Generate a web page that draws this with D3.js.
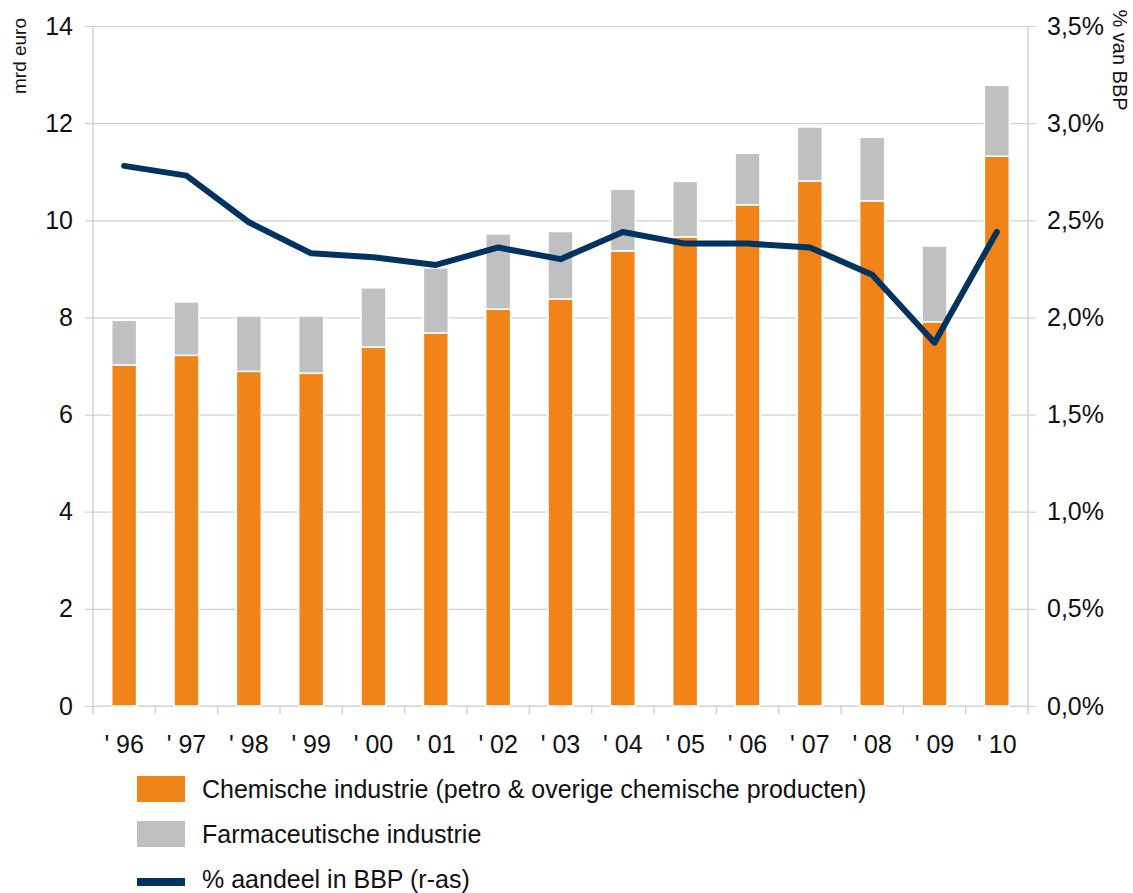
<!DOCTYPE html>
<html>
<head>
<meta charset="utf-8">
<script src="https://cdn.jsdelivr.net/npm/d3@7"></script>
<style>
  html, body { margin: 0; padding: 0; background: #fff; }
  svg { display: block; font-family: "Liberation Sans", Arial, sans-serif; }
</style>
</head>
<body>
<svg id="chart" width="1133" height="893"></svg>
<script>
// Jaren
const years = ["' 96", "' 97", "' 98", "' 99", "' 00", "' 01", "' 02", "' 03", "' 04", "' 05", "' 06", "' 07", "' 08", "' 09", "' 10"];
// Toegevoegde waarde, mrd euro
const chemie = [7.02, 7.22, 6.89, 6.85, 7.39, 7.68, 8.17, 8.38, 9.37, 9.66, 10.32, 10.81, 10.40, 7.91, 11.32];
const farma  = [0.92, 1.10, 1.14, 1.18, 1.22, 1.34, 1.55, 1.39, 1.27, 1.14, 1.06, 1.11, 1.31, 1.56, 1.46];
// Aandeel in BBP, procent (rechteras)
const aandeel = [2.78, 2.73, 2.49, 2.33, 2.31, 2.27, 2.36, 2.30, 2.44, 2.38, 2.38, 2.36, 2.22, 1.87, 2.44];
// As-ticks
const leftTicks = [0, 2, 4, 6, 8, 10, 12, 14];
const rightTicks = [0, 0.5, 1, 1.5, 2, 2.5, 3, 3.5];
const legendLabels = [
  "Chemische industrie (petro & overige chemische producten)",
  "Farmaceutische industrie",
  "% aandeel in BBP (r-as)"
];

const C_CHEM = "#f08418", C_FARMA = "#c0c0c0", C_LINE = "#00335f", C_GRID = "#d2d2d2";
const FS = 25;

const svg = d3.select("#chart");
const plotL = 93, plotR = 1028, plotT = 26, plotB = 706;

const x = d3.scaleBand().domain(years).range([plotL, plotR]).paddingInner(0.6).paddingOuter(0.3);
const xb = d3.scaleBand().domain(years).range([plotL, plotR]).padding(0);
const y = d3.scaleLinear().domain([0, 14]).range([plotB, plotT]);
const y2 = d3.scaleLinear().domain([0, 3.5]).range([plotB, plotT]);

// Rasterlijnen met korte tick links
const yAxis = d3.axisLeft(y).tickValues(leftTicks).tickSize(-(plotR - plotL)).tickSizeOuter(0).tickPadding(20).tickFormat(d3.format("d"));
const gy = svg.append("g").attr("transform", `translate(${plotL},0)`).call(yAxis);
gy.select(".domain").remove();
gy.selectAll(".tick line").attr("stroke", C_GRID).attr("x1", -8).attr("stroke-width", 1.2);
gy.selectAll(".tick text").attr("font-size", FS).attr("fill", "#111").attr("font-family", "Liberation Sans, Arial, sans-serif");

// Rechteras
const y2Axis = d3.axisRight(y2).tickValues(rightTicks).tickSize(8).tickSizeOuter(0).tickPadding(11)
  .tickFormat(d => d3.format(".1f")(d).replace(".", ",") + "%");
const gy2 = svg.append("g").attr("transform", `translate(${plotR},0)`).call(y2Axis);
gy2.select(".domain").remove();
gy2.selectAll(".tick line").attr("stroke", C_GRID).attr("stroke-width", 1.2);
gy2.selectAll(".tick text").attr("font-size", FS).attr("fill", "#111").attr("font-family", "Liberation Sans, Arial, sans-serif");

// Verticale aslijnen
svg.append("line").attr("x1", plotL).attr("x2", plotL).attr("y1", plotT).attr("y2", plotB).attr("stroke", C_GRID).attr("stroke-width", 1.5);
svg.append("line").attr("x1", plotR).attr("x2", plotR).attr("y1", plotT).attr("y2", plotB).attr("stroke", C_GRID).attr("stroke-width", 1.5);

// X-as: tickstreepjes tussen de categorieën
const bounds = years.map(d => xb(d)).concat([plotR]);
svg.append("g").selectAll("line").data(bounds).join("line")
  .attr("x1", d => d).attr("x2", d => d).attr("y1", plotB).attr("y2", plotB + 8)
  .attr("stroke", C_GRID).attr("stroke-width", 1.5);
svg.append("line").attr("x1", plotL).attr("x2", plotR).attr("y1", plotB).attr("y2", plotB).attr("stroke", C_GRID).attr("stroke-width", 1.2);
svg.append("g").selectAll("text").data(years).join("text")
  .attr("x", d => xb(d) + xb.bandwidth() / 2).attr("y", 753)
  .attr("text-anchor", "middle").attr("font-size", FS).attr("fill", "#111")
  .text(d => d);

// Gestapelde staven
const rows = years.map((yr, i) => ({ yr, chem: chemie[i], farma: farma[i] }));
const stacked = d3.stack().keys(["chem", "farma"])(rows);
const colors = { chem: C_CHEM, farma: C_FARMA };
svg.append("g").selectAll("g").data(stacked).join("g")
  .attr("fill", d => colors[d.key])
  .selectAll("rect").data(d => d).join("rect")
  .attr("x", d => x(d.data.yr)).attr("width", x.bandwidth())
  .attr("y", d => y(d[1])).attr("height", d => y(d[0]) - y(d[1]))
  .attr("stroke", "#fff").attr("stroke-width", 1.5);

// Lijn aandeel in BBP
const line = d3.line().x((d, i) => xb(years[i]) + xb.bandwidth() / 2).y(d => y2(d));
svg.append("path").datum(aandeel).attr("d", line)
  .attr("fill", "none").attr("stroke", C_LINE).attr("stroke-width", 6)
  .attr("stroke-linejoin", "round").attr("stroke-linecap", "round");

// Astitels
svg.append("text").attr("transform", "translate(26,56) rotate(-90)")
  .attr("text-anchor", "middle").attr("font-size", 19).attr("fill", "#111").text("mrd euro");
svg.append("text").attr("transform", "translate(1113,60) rotate(90)")
  .attr("text-anchor", "middle").attr("font-size", 20).attr("fill", "#111").text("% van BBP");

// Legenda
const lg = svg.append("g");
const ly = [789, 834, 879];
lg.append("rect").attr("x", 137).attr("y", 776).attr("width", 48).attr("height", 26).attr("fill", C_CHEM);
lg.append("rect").attr("x", 137).attr("y", 821).attr("width", 48).attr("height", 26).attr("fill", C_FARMA);
lg.append("rect").attr("x", 137).attr("y", 878).attr("width", 48).attr("height", 8).attr("fill", C_LINE);
lg.selectAll("text").data(legendLabels).join("text")
  .attr("x", 202).attr("y", (d, i) => ly[i]).attr("dy", "0.35em")
  .attr("font-size", FS).attr("fill", "#111").text(d => d);
</script>
</body>
</html>
